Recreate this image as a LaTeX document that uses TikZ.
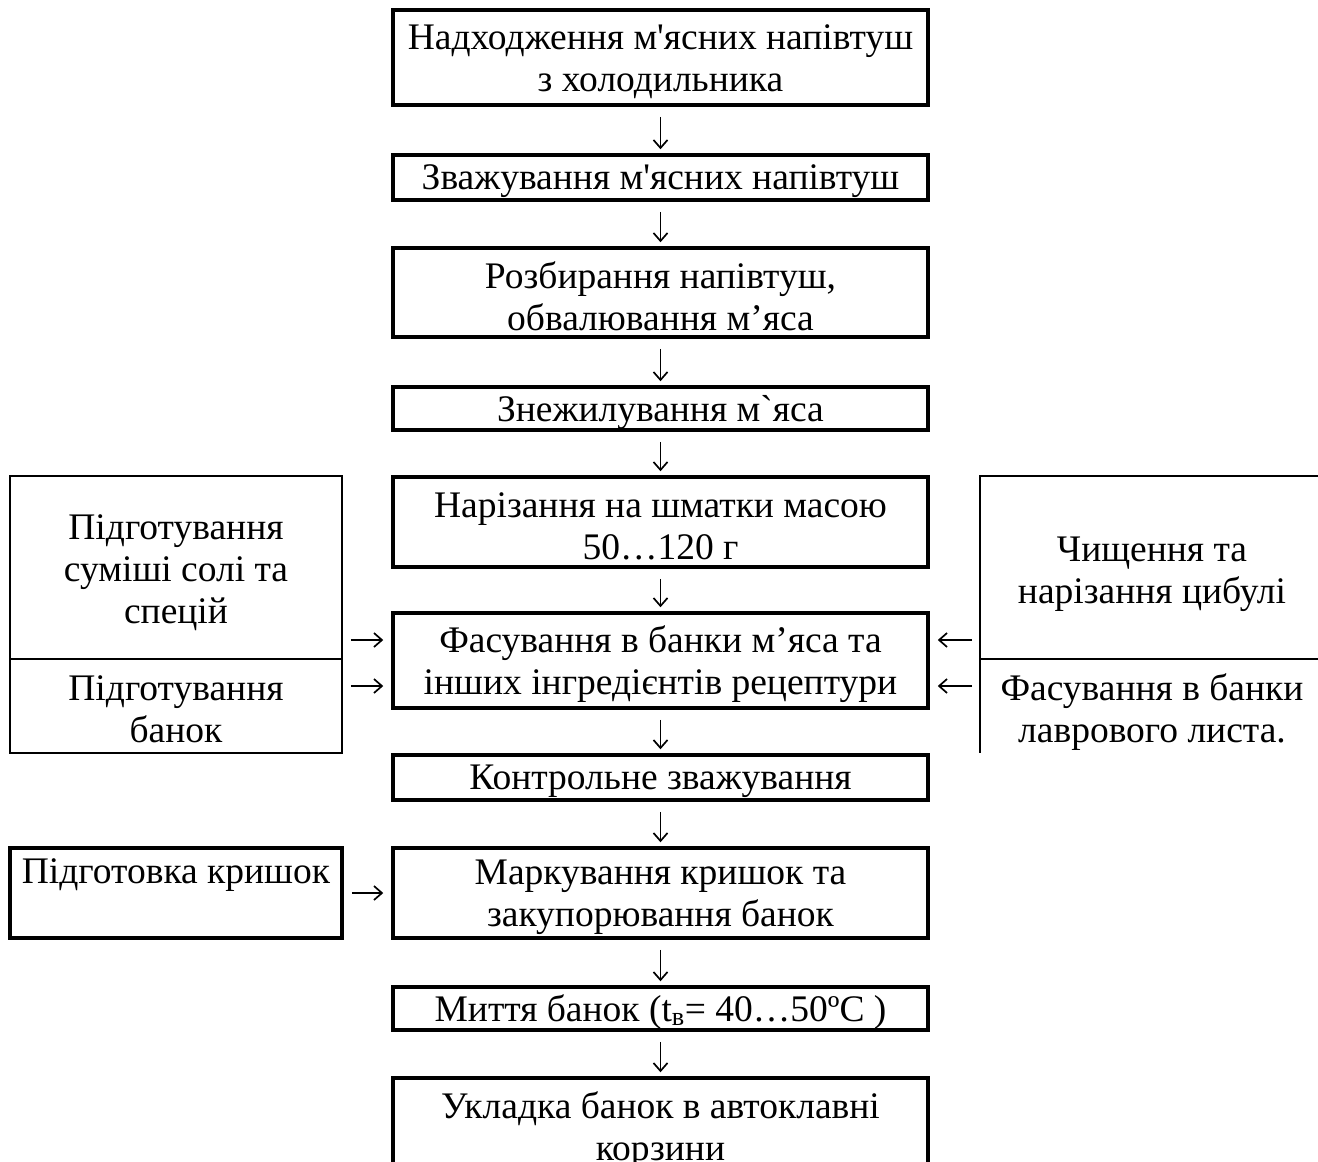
\documentclass[tikz,border=0pt]{standalone}
\usepackage{fontspec}
\setmainfont{Liberation Serif}[Ligatures=TeXOff]
\usetikzlibrary{arrows.meta}
\newcommand\bigfs{\fontsize{37.5}{42}\selectfont}
\begin{document}
\begin{tikzpicture}[x=1pt,y=-1pt,
  main/.style={draw, line width=3.5pt, minimum width=535pt, inner sep=0pt},
  cell/.style={draw, line width=1.5pt, minimum width=332pt, inner sep=0pt},
  txt/.style={inner sep=0pt, align=center, font=\bigfs},
  arr/.style={line width=1.7pt, -{Straight Barb[length=8pt,width=14pt]}},
  varr/.style={arr, shorten <=10pt, shorten >=4pt},
  harr/.style={arr, shorten <=8pt, shorten >=8pt},
  lin/.style={line width=1.5pt}]
\useasboundingbox (0,0) rectangle (1318,1162);

% main column boxes
\node[main, minimum height=95pt] (b1) at (660.5,57.5) {};
\node[main, minimum height=45pt] (b2) at (660.5,177.5) {};
\node[main, minimum height=89pt] (b3) at (660.5,292.5) {};
\node[main, minimum height=43pt] (b4) at (660.5,408.5) {};
\node[main, minimum height=90pt] (b5) at (660.5,522) {};
\node[main, minimum height=95pt] (b6) at (660.5,660.5) {};
\node[main, minimum height=45pt] (b7) at (660.5,777.5) {};
\node[main, minimum height=90pt] (b8) at (660.5,893) {};
\node[main, minimum height=43pt] (b9) at (660.5,1008.5) {};
\node[main, minimum height=116pt] (b10) at (660.5,1136) {};

% main column texts
\node[txt, yshift=-4pt] (t1) at (b1) {Надходження м'ясних напівтуш\\з холодильника};
\node[txt, yshift=-4pt] (t2) at (b2) {Зважування м'ясних напівтуш};
\node[txt, yshift=-4pt] (t3) at (b3) {Розбирання напівтуш,\\обвалювання м’яса};
\node[txt, yshift=-4pt] (t4) at (b4) {Знежилування м`яса};
\node[txt, yshift=-4pt] (t5) at (b5) {Нарізання на шматки масою\\50…120 г};
\node[txt, yshift=-4pt] (t6) at (b6) {Фасування в банки м’яса та\\інших інгредієнтів рецептури};
\node[txt, yshift=-4pt] (t7) at (b7) {Контрольне зважування};
\node[txt, yshift=-4pt] (t8) at (b8) {Маркування кришок та\\закупорювання банок};
\node[txt, yshift=-4pt] (t9) at (b9) {Миття банок (t\textsubscript{в}= 40…50ºC )};
\node[txt, yshift=6pt] (t10) at (b10) {Укладка банок в автоклавні\\корзини};

\draw[varr] (b1) -- (b2);
\draw[varr] (b2) -- (b3);
\draw[varr] (b3) -- (b4);
\draw[varr] (b4) -- (b5);
\draw[varr] (b5) -- (b6);
\draw[varr] (b6) -- (b7);
\draw[varr] (b7) -- (b8);
\draw[varr] (b8) -- (b9);
\draw[varr] (b9) -- (b10);

% left group
\node[cell, minimum height=183pt] (lg1) at (176,567.5) {};
\node[cell, minimum height=94pt] (lg2) at (176,706) {};
\node[txt, yshift=-5pt] (lt1) at (lg1) {Підготування\\суміші солі та\\спецій};
\node[txt, yshift=-3pt] (lt2) at (lg2) {Підготування\\банок};
\coordinate (ya) at (0,640);
\coordinate (yb) at (0,686);
\draw[harr] (lg1.east |- ya) -- (b6.west |- ya);
\draw[harr] (lg2.east |- yb) -- (b6.west |- yb);

% right group
\draw[lin] (1320,476) -- (980,476) -- (980,753);
\draw[lin] (980,659) -- (1320,659);
\node[txt] (rg1) at (1152,574) {Чищення та\\нарізання цибулі};
\node[txt] (rg2) at (1152,712) {Фасування в банки\\лаврового листа.};
\coordinate (re) at (980,0);
\draw[harr] (re |- ya) -- (b6.east |- ya);
\draw[harr] (re |- yb) -- (b6.east |- yb);

% lids
\node[main, minimum width=332pt, minimum height=90pt] (kr) at (176,893) {};
\node[txt] (krt) at (176,875) {Підготовка кришок};
\draw[harr] (kr) -- (b8);
\end{tikzpicture}
\end{document}
